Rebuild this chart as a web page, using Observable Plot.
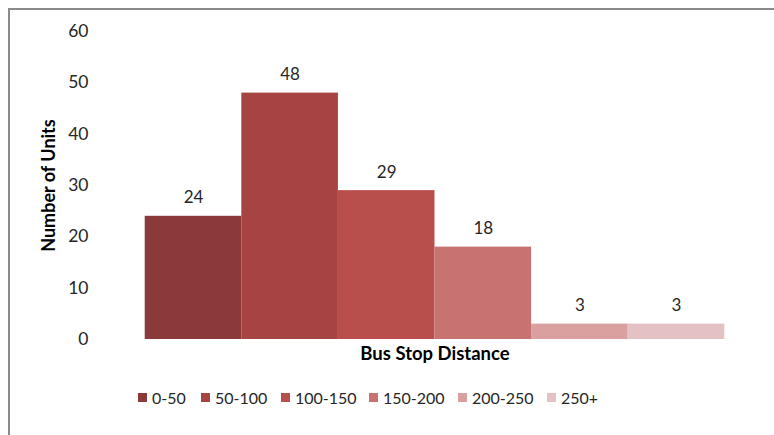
<!DOCTYPE html>
<html>
<head>
<meta charset="utf-8">
<script src="https://cdn.jsdelivr.net/npm/d3@7"></script>
<script src="https://cdn.jsdelivr.net/npm/@observablehq/plot@0.6"></script>
<style>
  html, body { margin: 0; padding: 0; background: #fff; }
  body { width: 774px; height: 435px; overflow: hidden; position: relative; font-family: Lato, "Open Sans", sans-serif; }
  #frame { position: absolute; left: 8px; top: 8px; width: 800px; height: 460px; border: 2px solid #8a8a8a; box-sizing: border-box; }
  #chart { position: absolute; left: 0; top: 0; }
  #legend { position: absolute; left: 0; top: 387px; width: 774px; height: 20px; }
  .item { position: absolute; top: 0; display: flex; align-items: center; height: 20px; font-size: 16px; color: #262626; }
  .sw { width: 9px; height: 9px; margin-right: 5px; }
</style>
</head>
<body>
<div id="frame"></div>
<div id="chart"></div>
<div id="legend"></div>
<script>
// Units by distance to the nearest bus stop
const bins = ["0-50", "50-100", "100-150", "150-200", "200-250", "250+"];
const units = [24, 48, 29, 18, 3, 3];
const colors = ["#8b3a3a", "#a64443", "#b94f4c", "#c87271", "#d9a09f", "#e4c2c3"];
const yTicks = [0, 10, 20, 30, 40, 50, 60];
const legendX = [138, 201, 281, 369, 458, 547];

const rows = bins.map((b, i) => ({bin: b, units: units[i]}));

const plot = Plot.plot({
  width: 774,
  height: 370,
  marginLeft: 108,
  marginRight: 13,
  marginTop: 31,
  marginBottom: 31,
  style: {fontFamily: "Lato, 'Open Sans', sans-serif", background: "transparent"},
  x: {domain: bins, paddingInner: 0, paddingOuter: 0.38, round: false, axis: null},
  y: {domain: [0, 60]},
  color: {domain: bins, range: colors},
  marks: [
    Plot.barY(rows, {x: "bin", y: "units", fill: "bin"}),
    Plot.text(rows, {x: "bin", y: "units", text: d => String(d.units), lineAnchor: "bottom", dy: -13, fontSize: 17, fill: "#262626"}),
    Plot.axisY({ticks: yTicks, tickSize: 0, tickPadding: 20, fontSize: 17.5, color: "#262626", label: null}),
    Plot.ruleX([0], {frameAnchor: "left", stroke: "#c0c0c0", strokeWidth: 1}),
    Plot.text(["Number of Units"], {frameAnchor: "left", textAnchor: "middle", dx: -59, rotate: -90, fontWeight: "bold", fontSize: 18, fill: "#000"}),
    Plot.text(["Bus Stop Distance"], {frameAnchor: "bottom", dy: 20, fontWeight: "bold", fontSize: 18.5, fill: "#000"})
  ]
});
document.getElementById("chart").appendChild(plot);

const legend = document.getElementById("legend");
bins.forEach((b, i) => {
  const item = document.createElement("div");
  item.className = "item";
  item.style.left = legendX[i] + "px";
  const sw = document.createElement("div");
  sw.className = "sw";
  sw.style.background = colors[i];
  const label = document.createElement("span");
  label.textContent = b;
  item.appendChild(sw);
  item.appendChild(label);
  legend.appendChild(item);
});
</script>
</body>
</html>
